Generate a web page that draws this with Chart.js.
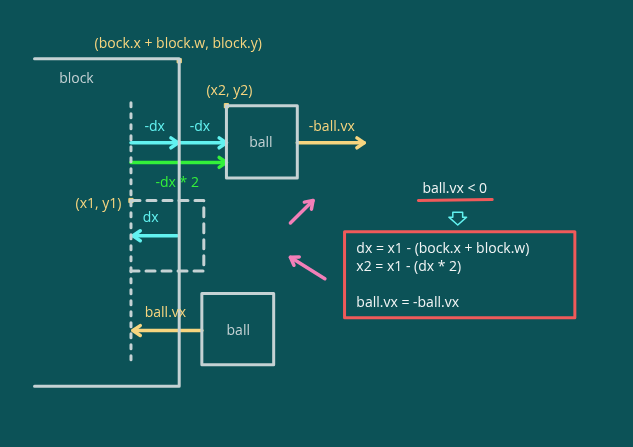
<!DOCTYPE html>
<html><head><meta charset="utf-8">
<script src="https://cdn.jsdelivr.net/npm/chart.js@4"></script>
<style>html,body{margin:0;padding:0;background:#0c5257;}#w{width:633px;height:447px;}</style>
</head><body><div id="w"><canvas id="c"></canvas></div>
<script>
const GRAY='#c5d2d4', YEL='#f7d57f', CYAN='#62f2f0', GREEN='#33f03a', PINK='#f27fb8', RED='#f05a5a', WHITE='#f2f5f5';
// polylines: [color, width, dash, points]
const blockOutline=[[30,55],[177,55],[177,390],[30,390]];
const ballTop=[[225,103],[297,103],[297,177],[225,177],[225,103]];
const ballBottom=[[200,295],[273,295],[273,368],[200,368],[200,295]];
const dashedBox=[[128,200],[202,200],[202,272],[128,272]];
const dottedLine=[[128,100],[128,365]];
const redBox=[[345,232],[579,232],[579,320],[345,320],[345,232]];
const underline=[[420,200],[495,199]];
// arrows: [color, from, to]
const arrows=[
 [CYAN,[128,141],[176,141]],[CYAN,[178,141],[225,141]],
 [GREEN,[128,161],[225,161]],[YEL,[297,141],[365,141]],
 [CYAN,[175,236],[130,236]],[YEL,[200,333],[130,333]],
 [PINK,[290,223],[313,200]],[PINK,[325,280],[290,258]]
];
const dots=[[177,57],[225,103],[128,200]];
// labels: [text, x, y, color, align]
const labels=[
 ['(bock.x + block.w, block.y)',176,40,YEL,'center'],['block',55,76,GRAY,'left'],
 ['(x2, y2)',228,88,YEL,'center'],['-dx',152,125,CYAN,'center'],['-dx',198,125,CYAN,'center'],
 ['-ball.vx',332,125,YEL,'center'],['ball',260,141,GRAY,'center'],['-dx * 2',175,182,GREEN,'center'],
 ['(x1, y1)',95,204,YEL,'center'],['dx',148,218,CYAN,'center'],['ball.vx',163,315,YEL,'center'],
 ['ball',237,333,GRAY,'center'],['ball.vx < 0',457,188,WHITE,'center'],
 ['dx = x1 - (bock.x + block.w)',357,250,WHITE,'left'],['x2 = x1 - (dx * 2)',357,268,WHITE,'left'],
 ['ball.vx = -ball.vx',357,305,WHITE,'left']
];
const downIcon=[[455,212],[465,212],[465,217],[469,217],[460,225],[451,217],[455,217],[455,212]];

const pts=a=>a.map(p=>({x:p[0],y:p[1]}));
const ds=[];
function poly(a,color,w,dash){ds.push({data:pts(a),showLine:true,borderColor:color,borderWidth:w,borderDash:dash||[],pointRadius:0,fill:false,tension:0,borderCapStyle:'round',borderJoinStyle:'round'});}
poly(blockOutline,GRAY,3);poly(ballTop,GRAY,3);poly(ballBottom,GRAY,3);
poly(dashedBox,GRAY,3,[9,7]);poly(dottedLine,GRAY,3,[4,7]);
poly(redBox,RED,3);poly(underline,RED,3);poly(downIcon,CYAN,1.5);
arrows.forEach(([c,f,t])=>{
 poly([f,t],c,3.5);
 const ang=Math.atan2(t[1]-f[1],t[0]-f[0]),L=9;
 const h1=[t[0]-L*Math.cos(ang-0.6),t[1]-L*Math.sin(ang-0.6)],h2=[t[0]-L*Math.cos(ang+0.6),t[1]-L*Math.sin(ang+0.6)];
 poly([h1,t,h2],c,3.5);
});
ds.push({data:pts(dots),pointRadius:3,pointStyle:'rect',backgroundColor:YEL,borderColor:YEL,showLine:false});

const textPlugin={id:'txt',afterDatasetsDraw(ch){const c=ch.ctx,sx=ch.scales.x,sy=ch.scales.y;c.save();
 c.font='14px "Open Sans", sans-serif';c.textBaseline='middle';
 labels.forEach(([t,x,y,col,al])=>{c.fillStyle=col;c.textAlign=al;c.fillText(t,sx.getPixelForValue(x),sy.getPixelForValue(y));});c.restore();}};

new Chart(document.getElementById('c'),{type:'scatter',data:{datasets:ds},
 options:{responsive:true,maintainAspectRatio:false,animation:false,layout:{padding:0},
  plugins:{legend:{display:false},tooltip:{enabled:false}},
  scales:{x:{type:'linear',min:0,max:633,display:false},y:{type:'linear',min:0,max:447,reverse:true,display:false}}},
 plugins:[textPlugin]});
</script></body></html>
